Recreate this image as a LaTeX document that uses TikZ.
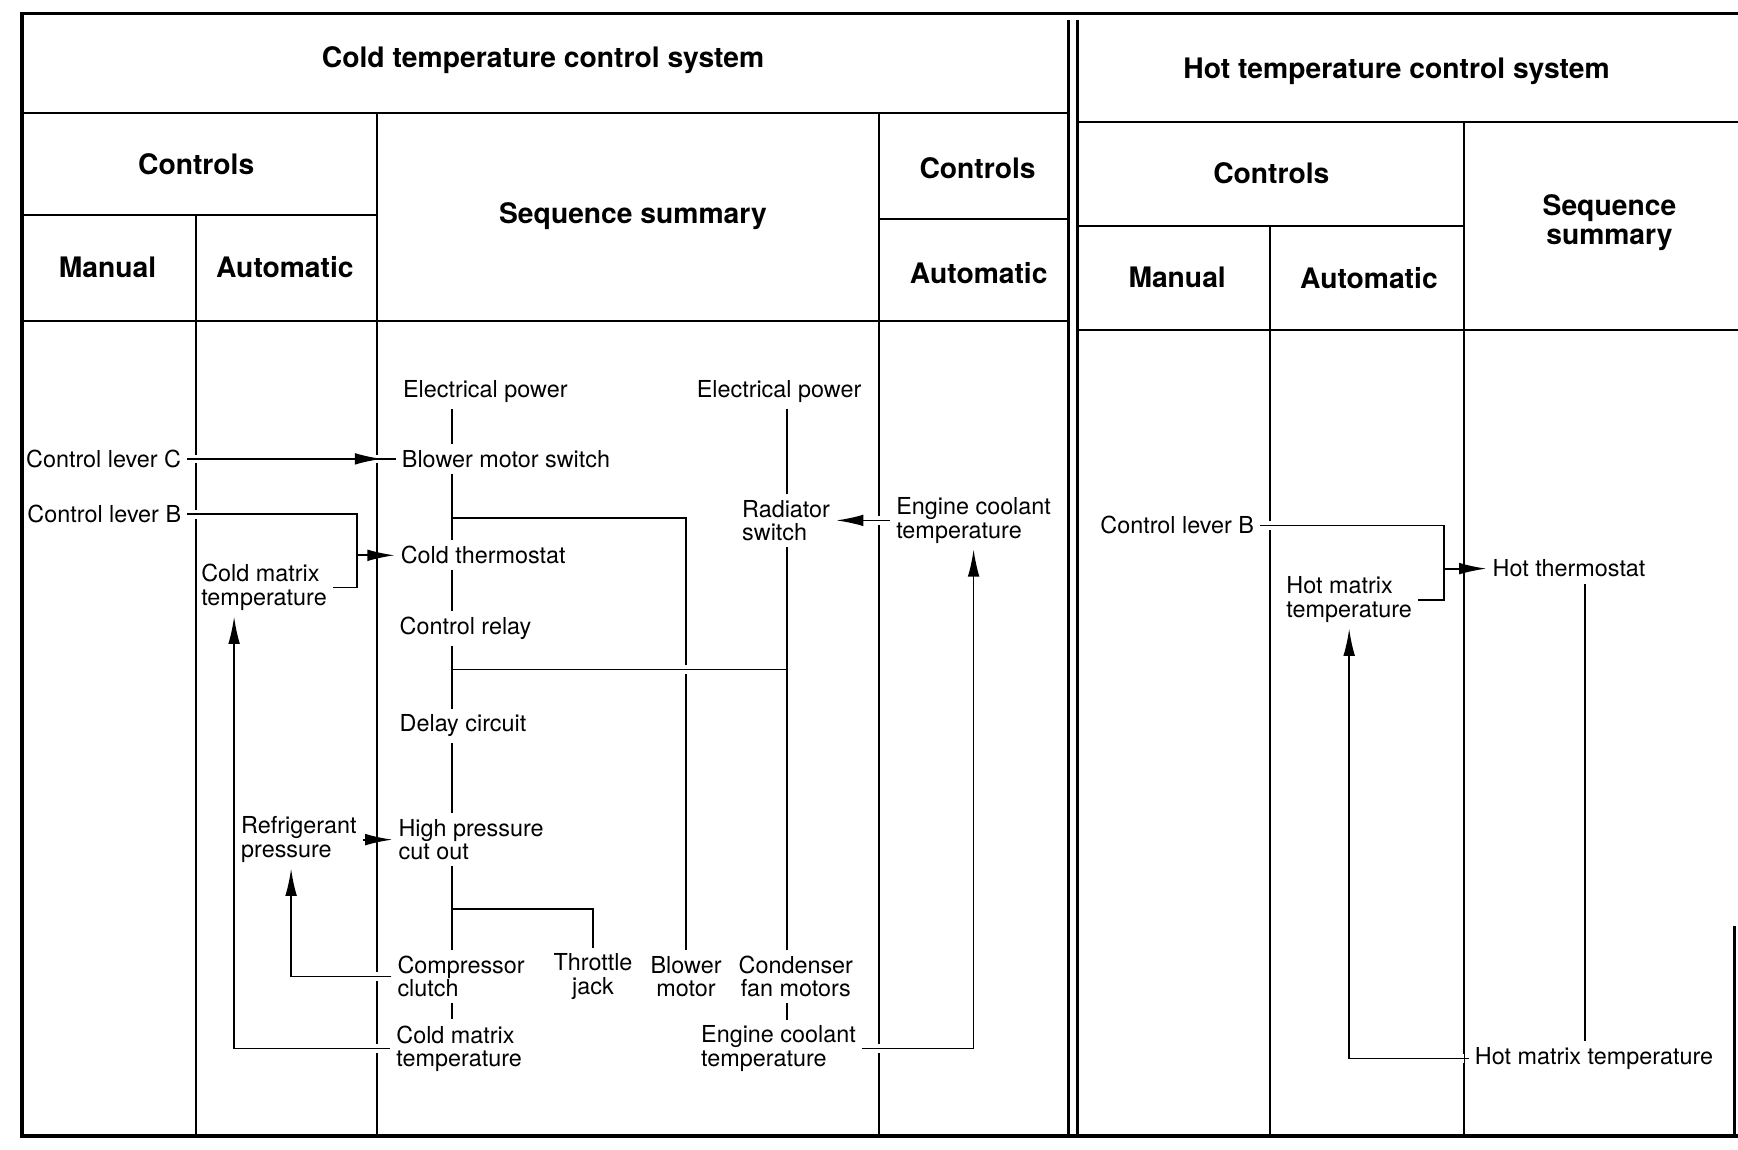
\documentclass[tikz,border=0pt]{standalone}
\usepackage{fontspec}
\setmainfont{TeX Gyre Heros}
\usepackage{tikz}
\usetikzlibrary{arrows.meta, decorations.markings}

\begin{document}
\begin{tikzpicture}[
    rule/.style={line width=1pt},
    rim/.style={line width=1.8pt},
    hd/.style={font=\fontsize{14.5}{15}\selectfont\bfseries, align=center},
    lbl/.style={inner sep=3pt, font=\fontsize{12}{12}\selectfont, align=left},
    wire/.style={line width=0.9pt},
    halo/.style={preaction={draw=white, line width=4.5pt,
                            shorten <=2.5pt, shorten >=2.5pt}},
    arr/.style={wire, -{Latex[length=14pt, width=6pt]}},
    thru/.style={wire, postaction={decorate}, decoration={markings,
                 mark=at position -7pt with {\arrow{Latex[length=14pt, width=6pt]}}}}
  ]
  \useasboundingbox (0,0) rectangle (31.36,20.74);
  % Outer frame + double divider
  \draw[rim] (31.36,20.50) -- (0.40,20.50) -- (0.40,0.24) -- (31.36,0.24);
  \draw[rim] (31.30,0.24) -- (31.30,4.04);
  \draw[rim] (19.28,20.38) -- (19.28,0.24);
  \draw[rim] (19.44,20.38) -- (19.44,0.24);
  % Cold table rules
  \draw[rule] (0.40,18.70) -- (19.28,18.70);
  \draw[rule] (0.40,16.86) -- (6.80,16.86);
  \draw[rule] (15.86,16.78) -- (19.28,16.78);
  \draw[rule] (0.40,14.94) -- (19.28,14.94);
  \draw[rule] (6.80,18.70) -- (6.80,0.24);
  \draw[rule] (3.54,16.86) -- (3.54,0.24);
  \draw[rule] (15.86,18.70) -- (15.86,0.24);
  % Hot table rules
  \draw[rule] (19.44,18.54) -- (31.36,18.54);
  \draw[rule] (19.44,16.66) -- (26.42,16.66);
  \draw[rule] (19.44,14.78) -- (31.36,14.78);
  \draw[rule] (26.42,18.54) -- (26.42,0.24);
  \draw[rule] (22.92,16.66) -- (22.92,0.24);

  % Headings
  \node[hd] (title1) at (9.80,19.66) {Cold temperature control system};
  \node[hd] (ctl1) at (3.54,17.78) {Controls};
  \node[hd] (seq1) at (11.42,16.84) {Sequence summary};
  \node[hd] (ctl2) at (17.64,17.70) {Controls};
  \node[hd] (man1) at (1.94,15.92) {Manual};
  \node[hd] (aut1) at (5.14,15.92) {Automatic};
  \node[hd] (aut2) at (17.66,15.82) {Automatic};
  \node[hd] (title2) at (25.20,19.46) {Hot temperature control system};
  \node[hd] (ctl3) at (22.94,17.62) {Controls};
  \node[hd] (seq2) at (29.04,16.72) {Sequence\\summary};
  \node[hd] (man2) at (21.24,15.74) {Manual};
  \node[hd] (aut3) at (24.70,15.72) {Automatic};

  % Cold sequence
  \node[lbl, anchor=west] (ep1) at (7.16,13.67) {Electrical power};
  \node[lbl, anchor=west] (bms) at (7.14,12.46) {Blower motor switch};
  \node[lbl, anchor=west] (ct) at (7.12,10.72) {Cold thermostat};
  \node[lbl, anchor=west] (cr) at (7.10,9.40) {Control relay};
  \node[lbl, anchor=west] (dc) at (7.10,7.64) {Delay circuit};
  \node[lbl, anchor=west] (hp) at (7.08,5.59) {High pressure\\cut out};
  \node[lbl, anchor=west] (cc) at (7.06,3.12) {Compressor\\clutch};
  \node[lbl, anchor=west] (cmt2) at (7.04,1.82) {Cold matrix\\temperature};
  \node[lbl, align=center] (tj) at (10.70,3.12) {Throttle\\jack};
  \node[lbl, align=center] (bm) at (12.38,3.12) {Blower\\motor};
  \node[lbl, align=center] (cfm) at (14.36,3.12) {Condenser\\fan motors};
  \node[lbl, anchor=west] (ep2) at (12.46,13.67) {Electrical power};
  \node[lbl, anchor=west] (rs) at (13.28,11.35) {Radiator\\switch};
  \node[lbl, anchor=west] (ect2) at (12.54,1.82) {Engine coolant\\temperature};
  % Cold controls
  \node[lbl, anchor=east] (lvc) at (3.38,12.46) {Control lever C};
  \node[lbl, anchor=east] (lvb) at (3.38,11.46) {Control lever B};
  \node[lbl, anchor=west] (cmt1) at (3.52,10.14) {Cold matrix\\temperature};
  \node[lbl, anchor=west] (rp) at (4.24,5.59) {Refrigerant\\pressure};
  \node[lbl, anchor=west] (ect1) at (16.06,11.35) {Engine coolant\\temperature};

  \coordinate (spine) at (8.16,0);
  \coordinate (rcol) at (14.20,0);
  \coordinate (hcol) at (28.60,0);
  \coordinate (m1) at (6.44,10.72);
  \coordinate (m2) at (26.06,10.48);
  \coordinate (j1) at (8.16,11.40);
  \coordinate (j2) at (8.16,8.66);
  \coordinate (j3) at (8.16,4.34);

  % Branches and chains
  \draw[wire] (j1) -| (bm.north);
  \draw[wire, halo] (j2) -- (j2 -| rcol);
  \draw[wire] (j3) -| (tj.north);
  \foreach \a/\b in {ep1/bms, bms/ct, ct/cr, cr/dc, dc/hp, hp/cc, cc/cmt2}
    \draw[wire] (\a.south -| spine) -- (\b.north -| spine);
  \foreach \a/\b in {ep2/rs, rs/cfm, cfm/ect2}
    \draw[wire] (\a.south -| rcol) -- (\b.north -| rcol);

  % Control signals
  \draw[thru, halo] (lvc.east) -- (bms.west);
  \draw[wire, halo] (lvb.east) -| (m1) |- (cmt1.east);
  \draw[arr, halo] (m1) -- (ct.west);
  \draw[arr, halo] (rp.east) -- (hp.west);
  \draw[arr, halo] (cc.west) -| ([xshift=-0.14cm]rp.south);
  \draw[arr, halo] (cmt2.west) -| ([xshift=-0.54cm]cmt1.south);
  \draw[arr, halo] (ect1.west) -- (rs.east);
  \draw[arr, halo] (ect2.east) -| (ect1.south);

  % Hot side
  \node[lbl, anchor=east] (hlvb) at (22.74,11.26) {Control lever B};
  \node[lbl, anchor=west] (hmt1) at (23.10,9.92) {Hot matrix\\temperature};
  \node[lbl, anchor=west] (ht) at (26.82,10.48) {Hot thermostat};
  \node[lbl, anchor=west] (hmt2) at (26.50,1.64) {Hot matrix temperature};
  \draw[wire, halo] (hlvb.east) -| (m2) |- (hmt1.east);
  \draw[arr, halo] (m2) -- (ht.west);
  \draw[wire] (ht.south -| hcol) -- (hmt2.north -| hcol);
  \draw[arr, halo] (hmt2.west) -| (hmt1.south);
\end{tikzpicture}
\end{document}
